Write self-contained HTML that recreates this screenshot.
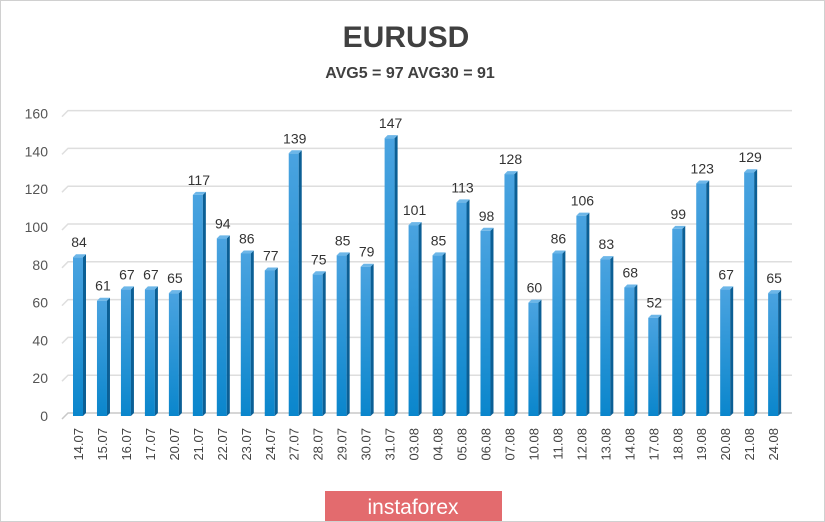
<!DOCTYPE html>
<html><head><meta charset="utf-8"><style>
body{margin:0;background:#fff;font-family:"Liberation Sans",sans-serif;}
#w{position:relative;width:825px;height:522px;overflow:hidden;}
</style></head><body>
<div id="w">
<svg id="s" width="825" height="522">
<defs>
<linearGradient id="g" x1="0" y1="0" x2="0" y2="1"><stop offset="0" stop-color="#4aa3e0"/><stop offset="1" stop-color="#0a86cc"/></linearGradient>
</defs>
<rect x="0.5" y="0.5" width="824" height="521" fill="#fff" stroke="#d0d0d0"/>
<text x="406" y="47" text-anchor="middle" font-size="30" font-weight="bold" fill="#404040">EURUSD</text>
<text x="410" y="78" text-anchor="middle" font-size="16" font-weight="bold" fill="#404040">AVG5 = 97 AVG30 = 91</text>
<g id="grid"></g><g id="bars"></g><g id="xl"></g>
<rect x="325" y="491" width="177" height="30" fill="#e36b6e"/>
<text x="413" y="514" text-anchor="middle" font-size="21" fill="#fff">instaforex</text>
</svg>
</div>
<script>
const categories=["14.07","15.07","16.07","17.07","20.07","21.07","22.07","23.07","24.07","27.07","28.07","29.07","30.07","31.07","03.08","04.08","05.08","06.08","07.08","10.08","11.08","12.08","13.08","14.08","17.08","18.08","19.08","20.08","21.08","24.08"];
const values=[84,61,67,67,65,117,94,86,77,139,75,85,79,147,101,85,113,98,128,60,86,106,83,68,52,99,123,67,129,65];
const yTicks=[0,20,40,60,80,100,120,140,160];
const NS="http://www.w3.org/2000/svg";
const y=v=>416-v*1.89;
const x=i=>73+i*23.97;
function mk(t,a,p){const e=document.createElementNS(NS,t);for(const k in a)e.setAttribute(k,a[k]);p.appendChild(e);return e;}
const G=document.getElementById('grid'),B=document.getElementById('bars'),X=document.getElementById('xl');
yTicks.forEach(v=>{
 const l=mk('polyline',{points:`62,${y(v)+3} 68,${y(v)-3} 792,${y(v)-3}`,fill:'none',stroke:v===0?'#c8c8c8':'#dedede','stroke-width':1.5},G);
 
 
 const t=mk('text',{x:48,y:y(v)+5,'text-anchor':'end','font-size':14,fill:'#555'},G);t.textContent=v;
 
 
});
values.forEach((v,i)=>{
 const x0=x(i),yt=y(v),b=y(0);
 const g=mk('g',{},B);
 
 
 mk('rect',{x:x0,y:yt,width:10,height:b-yt,fill:'url(#g)'},g);
 mk('polygon',{points:`${x0+10},${yt} ${x0+13},${yt-3} ${x0+13},${b-3} ${x0+10},${b}`,fill:'#0b5f95'},g);
 mk('polygon',{points:`${x0},${yt} ${x0+3},${yt-3} ${x0+13},${yt-3} ${x0+10},${yt}`,fill:'#6cb6e8'},g);
 const t=mk('text',{x:x0+6,y:yt-10,'text-anchor':'middle','font-size':14,fill:'#333'},B);t.textContent=v;
 
 
 const c=mk('text',{x:0,y:0,'text-anchor':'end','font-size':13,fill:'#444',transform:`translate(${x0+10},428) rotate(-90)`},X);c.textContent=categories[i];
 
 
});
</script>
</body></html>
